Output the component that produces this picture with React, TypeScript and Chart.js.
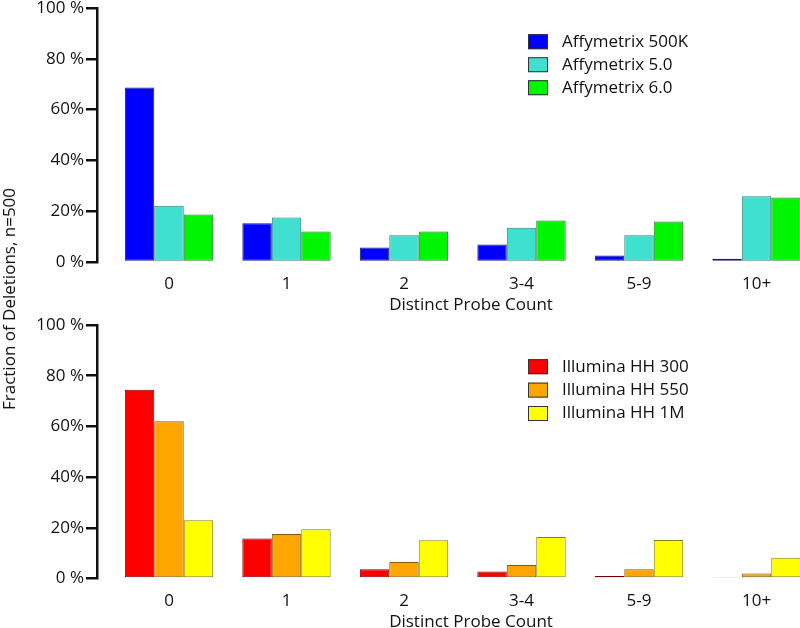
import React, { useEffect, useRef } from 'react';
import { Chart, registerables } from 'chart.js';

Chart.register(...registerables);

const categories = ['0', '1', '2', '3-4', '5-9', '10+'];
const yTickLabels = ['0 %', '20%', '40%', '60%', '80 %', '100 %'];

const affyLabels = ['Affymetrix 500K', 'Affymetrix 5.0', 'Affymetrix 6.0'];
const affy500K = [68.7, 15.3, 5.7, 6.9, 2.6, 1.3];
const affy50 = [22.1, 17.5, 10.5, 13.5, 10.5, 25.9];
const affy60 = [18.7, 12.0, 12.0, 16.3, 15.9, 25.4];
const affyColors = ['#0000FF', '#40E0D0', '#00F500'];
const affyBorders = ['#1c1c6e', '#2f7f74', '#237a23'];

const illuminaLabels = ['Illumina HH 300', 'Illumina HH 550', 'Illumina HH 1M'];
const hh300 = [74.5, 15.8, 3.6, 2.8, 1.0, 0.6];
const hh550 = [62.0, 17.6, 6.5, 5.3, 3.6, 2.0];
const hh1M = [23.0, 19.4, 15.1, 16.4, 15.2, 8.2];
const illuminaColors = ['#FF0000', '#FFA500', '#FFFF00'];
const illuminaBorders = ['#7a0000', '#7f5a10', '#85801a'];

const xTitle = 'Distinct Probe Count';
const yTitle = 'Fraction of Deletions, n=500';

const FONT = '"Open Sans", "Noto Sans", sans-serif';
const TEXT = '#111111';
const CANVAS_W = 845;
const X_MIN = -0.6128;
const X_MAX = 5.753;

const boxLegend = {
  id: 'boxLegend',
  afterDraw(chart: any, _args: any, opts: any) {
    const ctx = chart.ctx;
    ctx.save();
    ctx.font = `17px ${FONT}`;
    ctx.textBaseline = 'middle';
    ctx.textAlign = 'left';
    chart.data.datasets.forEach((ds: any, i: number) => {
      const cy = opts.y + i * opts.gap;
      ctx.fillStyle = ds.backgroundColor;
      ctx.fillRect(opts.x, cy - 7.5, 20, 15);
      ctx.strokeStyle = '#333333';
      ctx.lineWidth = 1;
      ctx.strokeRect(opts.x + 0.5, cy - 7.5 + 0.5, 19, 14);
      ctx.fillStyle = TEXT;
      ctx.fillText(ds.label, opts.x + 34, cy);
    });
    ctx.restore();
  },
};

type PanelProps = {
  top: number;
  height: number;
  padTop: number;
  xAxisHeight: number;
  labels: string[];
  series: number[][];
  colors: string[];
  borders: string[];
  legendY: number;
  legendGap: number;
};

function Panel(props: PanelProps) {
  const ref = useRef<HTMLCanvasElement | null>(null);
  useEffect(() => {
    if (!ref.current) return;
    const chart = new Chart(ref.current, {
      type: 'bar',
      data: {
        datasets: props.series.map((vals, k) => ({
          label: props.labels[k],
          data: vals.map((v, i) => ({ x: i, y: v })),
          backgroundColor: props.colors[k],
          borderColor: props.borders[k],
          borderWidth: 1,
          borderSkipped: false,
          categoryPercentage: 0.752,
          barPercentage: 1,
        })),
      },
      options: {
        animation: false,
        responsive: false,
        devicePixelRatio: 1,
        layout: { padding: { top: props.padTop, left: 0, right: 0, bottom: 0 } },
        plugins: {
          legend: { display: false },
          tooltip: { enabled: false },
          boxLegend: { x: 528, y: props.legendY, gap: props.legendGap },
        } as any,
        scales: {
          x: {
            type: 'linear',
            min: X_MIN,
            max: X_MAX,
            offset: false,
            grid: { display: false },
            border: { display: false },
            ticks: {
              stepSize: 1,
              includeBounds: false,
              autoSkip: false,
              maxRotation: 0,
              padding: 4,
              color: TEXT,
              font: { family: FONT, size: 17 },
              callback: (v: any) => (Number.isInteger(v) && categories[v] !== undefined ? categories[v] : ''),
            },
            title: {
              display: true,
              text: xTitle,
              color: TEXT,
              font: { family: FONT, size: 17 },
              padding: { top: 0, bottom: 0 },
            },
            afterFit: (s: any) => {
              s.height = props.xAxisHeight;
              s.paddingLeft = 0;
              s.paddingRight = 0;
            },
          },
          y: {
            min: 0,
            max: 100,
            grid: { drawOnChartArea: false, drawTicks: true, tickLength: 11, color: TEXT, lineWidth: 2.5 },
            border: { display: true, color: TEXT, width: 2.5 },
            ticks: {
              stepSize: 20,
              padding: 2,
              color: TEXT,
              font: { family: FONT, size: 17 },
              callback: (v: any) => yTickLabels[Math.round(Number(v) / 20)] ?? '',
            },
            afterFit: (s: any) => {
              s.width = 97;
              s.paddingTop = 0;
              s.paddingBottom = 0;
            },
          },
        } as any,
      },
      plugins: [boxLegend],
    } as any);
    return () => chart.destroy();
  }, []);
  return (
    <canvas
      ref={ref}
      width={CANVAS_W}
      height={props.height}
      style={{ position: 'absolute', left: 0, top: props.top, width: CANVAS_W, height: props.height }}
    />
  );
}

export default function App() {
  return (
    <div
      style={{
        position: 'absolute',
        left: 0,
        top: 0,
        width: 800,
        height: 628,
        overflow: 'hidden',
        background: '#ffffff',
      }}
    >
      <Panel
        top={0}
        height={315}
        padTop={8}
        xAxisHeight={53}
        labels={affyLabels}
        series={[affy500K, affy50, affy60]}
        colors={affyColors}
        borders={affyBorders}
        legendY={41.7}
        legendGap={23}
      />
      <Panel
        top={312}
        height={320}
        padTop={13}
        xAxisHeight={53.5}
        labels={illuminaLabels}
        series={[hh300, hh550, hh1M]}
        colors={illuminaColors}
        borders={illuminaBorders}
        legendY={54.7}
        legendGap={23.4}
      />
      <div
        style={{
          position: 'absolute',
          left: 9,
          top: 299,
          transform: 'translate(-50%, -50%) rotate(-90deg)',
          whiteSpace: 'nowrap',
          font: `17px ${FONT}`,
          color: TEXT,
          lineHeight: '20px',
        }}
      >
        {yTitle}
      </div>
    </div>
  );
}
